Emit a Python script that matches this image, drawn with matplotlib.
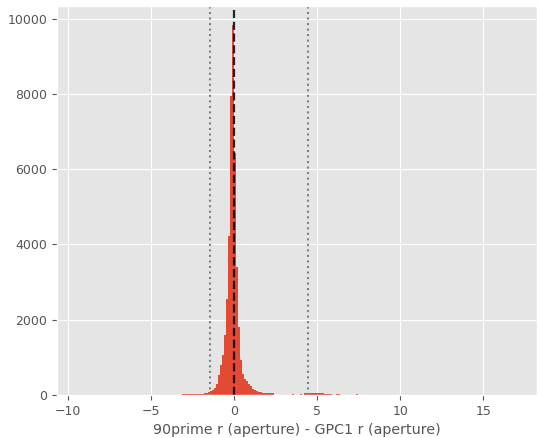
import numpy as np
import matplotlib
matplotlib.use("Agg")
import matplotlib.pyplot as plt

plt.style.use("ggplot")

# histogram of magnitude differences, bins of 0.12 mag (counts)
bin_width = 0.12
centers = [-9.30,
           -3.06, -2.94, -2.82, -2.70, -2.58, -2.46, -2.34, -2.22, -2.10, -1.98,
           -1.86, -1.74, -1.62, -1.50, -1.38, -1.26, -1.14, -1.02, -0.90, -0.78,
           -0.66, -0.54, -0.42, -0.30, -0.18, -0.06,
           0.06, 0.18, 0.30, 0.42, 0.54, 0.66, 0.78, 0.90, 1.02, 1.14,
           1.26, 1.38, 1.50, 1.62, 1.74, 1.86, 1.98, 2.10, 2.22, 2.34,
           3.54, 4.02, 4.26, 4.38, 4.50, 4.62, 4.74, 4.86, 4.98, 5.10, 5.22, 5.34,
           5.46, 5.58, 5.70, 5.82, 6.18, 6.30, 7.38,
           16.86]
counts = [1,
          20, 25, 25, 25, 28, 28, 30, 30, 35, 38,
          40, 45, 60, 85, 110, 140, 200, 290, 530, 790,
          1060, 1590, 2560, 4230, 7940, 9840,
          6440, 3400, 1810, 930, 560, 420, 380, 300, 230, 160,
          130, 110, 90, 75, 62, 60, 58, 55, 52, 50,
          30, 30, 45, 45, 45, 45, 45, 45, 45, 45, 45, 45,
          40, 40, 40, 40, 35, 35, 30,
          1]

median = -0.02
lower = -1.48
upper = 4.44

edges = np.arange(-9.36, 16.92 + bin_width / 2, bin_width)

fig = plt.figure(figsize=(5.38, 4.38), dpi=100)
ax = fig.add_axes([0.106, 0.098, 0.892, 0.888])

ax.hist(centers, bins=edges, weights=counts, color="#E24A33")
ax.axvline(median, color="black", linestyle="--", linewidth=1.6, alpha=0.85)
ax.axvline(lower, color="grey", linestyle=":", linewidth=1.5)
ax.axvline(upper, color="grey", linestyle=":", linewidth=1.5)

ax.set_xticks([-10, -5, 0, 5, 10, 15])
ax.set_yticks([0, 2000, 4000, 6000, 8000, 10000])
ax.tick_params(labelsize=9)
ax.set_xlabel("90prime r (aperture) - GPC1 r (aperture)", fontsize=10.3)

fig.savefig("out.png", dpi=100)
